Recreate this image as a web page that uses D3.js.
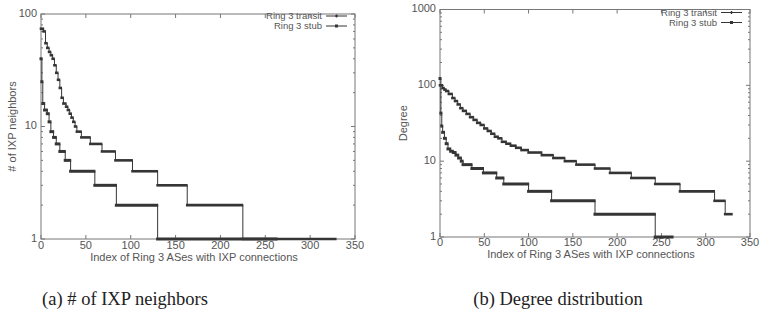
<!DOCTYPE html>
<html>
<head>
<meta charset="utf-8">
<script src="https://cdn.jsdelivr.net/npm/d3@7/dist/d3.min.js"></script>
<style>
  html, body { margin: 0; padding: 0; background: #fff; }
  svg { display: block; }
  .tick-label, .axis-title, .legend-text { font-family: "Liberation Sans", Arial, sans-serif; fill: #555; font-size: 11px; }
  .legend-text { font-size: 9.5px; }
  .caption { font-family: "Liberation Serif", "DejaVu Serif", serif; fill: #222; font-size: 18.5px; }
</style>
</head>
<body>
<svg id="chart" width="763" height="332"></svg>
<script>
// ---------- DATA (run starts: index where a value begins, and the value) ----------
const xTicks = [0, 50, 100, 150, 200, 250, 300, 350];
const seriesNames = ["Ring 3 transit", "Ring 3 stub"];

// (a) # of IXP neighbors
const aTicksY = [1, 10, 100];
const aTransitIdx = [0, 3, 5, 7, 9, 11, 13, 15, 17, 19, 21, 23, 25, 28, 30, 32, 34, 36, 38, 40, 45, 55, 68, 83, 102, 130, 163, 225];
const aTransitVal = [74, 70, 55, 50, 46, 43, 40, 35, 30, 26, 22, 18, 16, 15, 14, 13, 12, 11, 10, 9, 8, 7, 6, 5, 4, 3, 2, 1];
const aTransitEnd = 328;
const aStubIdx = [0, 1, 2, 4, 7, 9, 11, 14, 17, 21, 27, 33, 60, 84, 130];
const aStubVal = [40, 25, 16, 14, 13, 11, 9, 8, 7, 6, 5, 4, 3, 2, 1];
const aStubEnd = 262;

// (b) Degree distribution
const bTicksY = [1, 10, 100, 1000];
const bTransitIdx = [0, 3, 5, 7, 10, 14, 17, 20, 23, 26, 30, 34, 38, 42, 46, 50, 54, 58, 62, 66, 70, 75, 80, 86, 92, 100, 115, 128, 141, 154, 175, 192, 216, 243, 271, 310, 322];
const bTransitVal = [100, 92, 88, 84, 77, 68, 62, 56, 50, 46, 42, 38, 35, 32, 30, 27, 25, 23, 21, 20, 18, 17, 16, 15, 14, 13, 12, 11, 10, 9, 8, 7, 6, 5, 4, 3, 2];
const bTransitEnd = 329;
const bStubIdx = [0, 1, 2, 3, 5, 7, 9, 12, 15, 18, 21, 24, 26, 36, 49, 64, 72, 100, 126, 175, 243];
const bStubVal = [123, 43, 29, 24, 20, 17, 14.5, 13.5, 13, 12, 11, 10, 9, 8, 7, 6, 5, 4, 3, 2, 1];
const bStubEnd = 262;

const captions = ["(a) # of IXP neighbors", "(b) Degree distribution"];
const yTitles = ["# of IXP neighbors", "Degree"];
const xTitle = "Index of Ring 3 ASes with IXP connections";

// ---------- DRAW ----------
const svg = d3.select("#chart");
const ink = "#353535";
const axisCol = "#777";

function runs(idx, val, end) {
  return idx.map((s, i) => ({ x0: s, x1: (i < idx.length - 1 ? idx[i + 1] : end + 1) - 1, v: val[i] }));
}

function panel(cfg) {
  const g = svg.append("g");
  const x = d3.scaleLinear().domain([0, 350]).range([cfg.left, cfg.right]);
  const y = d3.scaleLog().domain([1, cfg.ymax]).range([cfg.bottom, cfg.top]);

  g.append("rect").attr("x", cfg.left).attr("y", cfg.top)
    .attr("width", cfg.right - cfg.left).attr("height", cfg.bottom - cfg.top)
    .attr("fill", "none").attr("stroke", axisCol).attr("stroke-width", 1);

  xTicks.forEach(t => {
    const px = x(t);
    g.append("line").attr("x1", px).attr("x2", px).attr("y1", cfg.bottom).attr("y2", cfg.bottom - 4).attr("stroke", axisCol);
    g.append("line").attr("x1", px).attr("x2", px).attr("y1", cfg.top).attr("y2", cfg.top + 4).attr("stroke", axisCol);
    g.append("text").attr("class", "tick-label").attr("x", px).attr("y", cfg.xLabelY)
      .attr("text-anchor", "middle").attr("dominant-baseline", "middle").text(t);
  });

  const yt = cfg.yTicks;
  for (let k = 0; k < yt.length - 1; k++) {
    for (let m = 2; m <= 9; m++) {
      const py = y(yt[k] * m);
      g.append("line").attr("x1", cfg.left).attr("x2", cfg.left + 2).attr("y1", py).attr("y2", py).attr("stroke", axisCol);
      g.append("line").attr("x1", cfg.right).attr("x2", cfg.right - 2).attr("y1", py).attr("y2", py).attr("stroke", axisCol);
    }
  }
  yt.forEach(t => {
    const py = y(t);
    g.append("line").attr("x1", cfg.left).attr("x2", cfg.left + 4).attr("y1", py).attr("y2", py).attr("stroke", axisCol);
    g.append("line").attr("x1", cfg.right).attr("x2", cfg.right - 4).attr("y1", py).attr("y2", py).attr("stroke", axisCol);
    g.append("text").attr("class", "tick-label").attr("x", cfg.left - 4).attr("y", py)
      .attr("text-anchor", "end").attr("dominant-baseline", "middle").text(t);
  });

  g.append("text").attr("class", "axis-title").attr("x", (cfg.left + cfg.right) / 2 - 4).attr("y", cfg.xTitleY)
    .attr("text-anchor", "middle").attr("dominant-baseline", "middle").text(xTitle);
  g.append("text").attr("class", "axis-title")
    .attr("transform", `translate(${cfg.yTitleX},${(cfg.top + cfg.bottom) / 2}) rotate(-90)`)
    .attr("text-anchor", "middle").text(cfg.yTitle);

  cfg.series.forEach((s, si) => {
    const r = runs(s.idx, s.val, s.end);
    const pts = [];
    r.forEach(d => { pts.push([d.x0, d.v]); pts.push([d.x1, d.v]); });
    const line = d3.line().x(d => x(d[0])).y(d => y(d[1])).curve(d3.curveStepAfter);
    g.append("path").attr("d", line(pts)).attr("fill", "none").attr("stroke", ink).attr("stroke-width", 1);
    g.selectAll(null).data(r).enter().append("line")
      .attr("x1", d => x(d.x0)).attr("x2", d => x(d.x1))
      .attr("y1", d => y(d.v)).attr("y2", d => y(d.v))
      .attr("stroke", ink).attr("stroke-width", si === 0 ? 2.6 : 3)
      .attr("stroke-linecap", "square");
  });

  cfg.series.forEach((s, si) => {
    const ly = cfg.legendY + si * 10;
    g.append("text").attr("class", "legend-text").attr("x", cfg.legendX).attr("y", ly + 3.3)
      .attr("text-anchor", "end").text(seriesNames[si]);
    g.append("line").attr("x1", cfg.legendX + 4).attr("x2", cfg.legendX + 25)
      .attr("y1", ly).attr("y2", ly).attr("stroke", ink).attr("stroke-width", 1);
    const mx = cfg.legendX + 14.5;
    if (si === 0) {
      g.append("line").attr("x1", mx - 1.5).attr("x2", mx + 1.5).attr("y1", ly).attr("y2", ly).attr("stroke", ink).attr("stroke-width", 1.2);
      g.append("line").attr("x1", mx).attr("x2", mx).attr("y1", ly - 1.5).attr("y2", ly + 1.5).attr("stroke", ink).attr("stroke-width", 1.2);
    } else {
      g.append("rect").attr("x", mx - 1.5).attr("y", ly - 1.5).attr("width", 3).attr("height", 3).attr("fill", ink);
    }
  });

  svg.append("text").attr("class", "caption").attr("x", cfg.captionX).attr("y", 305)
    .attr("text-anchor", "middle").text(cfg.caption);
}

panel({
  left: 41, right: 355, top: 14, bottom: 239, ymax: 100, yTicks: aTicksY,
  xLabelY: 246.5, xTitleY: 258.5, yTitleX: 16, yTitle: yTitles[0],
  legendX: 322, legendY: 16, captionX: 125, caption: captions[0],
  series: [
    { idx: aTransitIdx, val: aTransitVal, end: aTransitEnd },
    { idx: aStubIdx, val: aStubVal, end: aStubEnd }
  ]
});

panel({
  left: 440, right: 750, top: 9.5, bottom: 237, ymax: 1000, yTicks: bTicksY,
  xLabelY: 243.5, xTitleY: 255, yTitleX: 407, yTitle: yTitles[1],
  legendX: 717, legendY: 12.5, captionX: 558, caption: captions[1],
  series: [
    { idx: bTransitIdx, val: bTransitVal, end: bTransitEnd },
    { idx: bStubIdx, val: bStubVal, end: bStubEnd }
  ]
});
</script>
</body>
</html>
